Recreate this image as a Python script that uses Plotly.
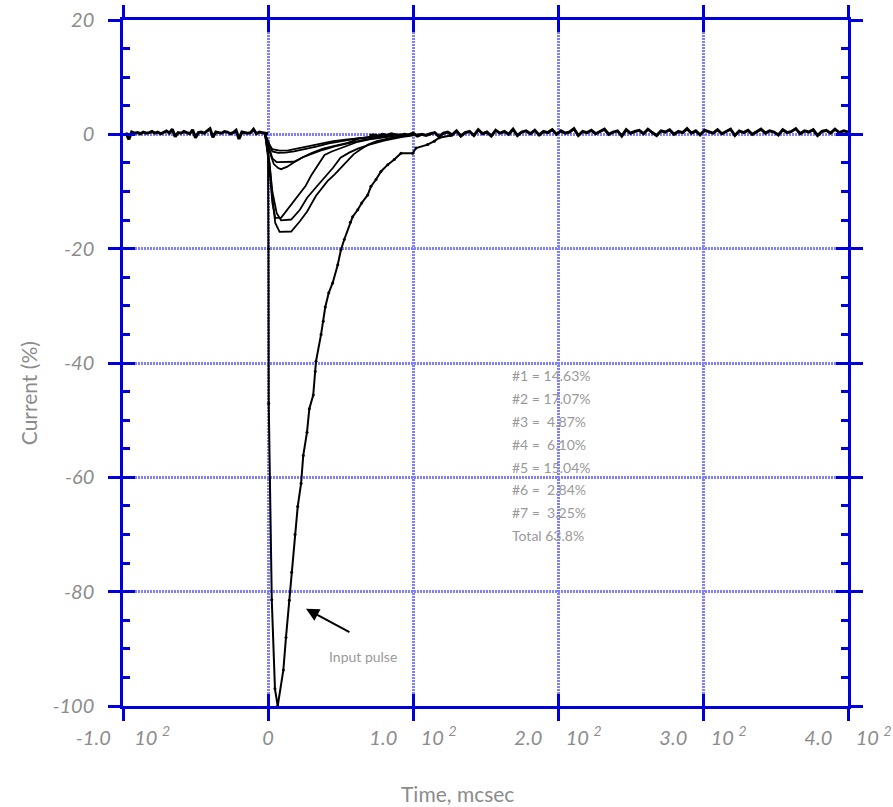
import plotly.graph_objects as go

# ---------------- data ----------------
x_tickvals = [-100, 0, 100, 200, 300, 400]
SP = "\u00a0" * 5
x_ticktext = ["-1.0" + SP + "10 <sup>2</sup>", "0",
              "1.0" + SP + "10 <sup>2</sup>",
              "2.0" + SP + "10 <sup>2</sup>",
              "3.0" + SP + "10 <sup>2</sup>",
              "4.0" + SP + "10 <sup>2</sup>"]
y_tickvals = [20, 0, -20, -40, -60, -80, -100]
y_ticktext = ["20", "0", "-20", "-40", "-60", "-80", "-100"]

# baseline noise before trigger (t = -98 .. 0, step 2 mcsec)
pre_noise = [0.3, -0.9, 0.4, 0.2, 0.3, 0.1, 0.4, 0.2, 0.3, 0.5,
             0.2, 0.4, 0.1, 0.3, 0.6, 0.2, 0.9, -0.4, 0.3, 0.2,
             0.5, 0.3, 0.1, 0.8, -0.6, 0.3, 0.4, 0.2, 0.6, 1.0,
             -0.5, 0.4, 0.3, 0.2, 0.5, 0.4, 0.1, 0.3, 0.7, -0.8,
             0.4, 0.3, 0.2, 0.3, 0.9, 0.1, 0.4, 0.3, 0.2, 0.1]
pre_t = [-98 + 2 * i for i in range(len(pre_noise))]

# baseline noise after recovery (t = 70 .. 400, step 3 mcsec)
post_noise = [-0.2, -0.1, -0.3, 0.0, -0.2, 0.1, -0.1, -0.2, 0.0, -0.1,
              0.2, -0.3, 0.0, -0.2, 0.1, 0.3, -0.4, 0.2, 0.4, -0.1,
              0.6, -0.3, 0.3, 0.5, -0.2, 0.8, 0.1, 0.4, -0.3, 0.7,
              0.2, 0.5, 0.0, 0.9, -0.2, 0.4, 0.6, 0.1, 0.7, -0.1,
              0.5, 0.3, 0.8, 0.0, 0.6, 0.2, 0.4, 1.0, -0.2, 0.5,
              0.3, 0.7, 0.1, 0.5, 0.9, 0.0, 0.4, 0.6, -0.3, 0.8,
              0.2, 0.5, 0.7, 0.1, 0.9, 0.3, -0.2, 0.6, 0.4, 0.8,
              0.0, 0.5, 0.3, 1.0, 0.2, 0.6, -0.1, 0.7, 0.4, 0.2,
              0.8, 0.1, 0.5, 0.9, -0.2, 0.6, 0.3, 0.7, 0.0, 0.5,
              0.9, 0.2, 0.6, 0.4, -0.1, 0.8, 0.3, 0.5, 1.0, 0.1,
              0.6, 0.4, 0.8, -0.2, 0.5, 0.7, 0.2, 0.9, 0.3, 0.6,
              0.4]
post_t = [70 + 3 * i for i in range(len(post_noise))]

# input pulse
pulse_t = [-2, 0, 0.3, 0.5, 2.6, 4.8, 6.7, 10.6, 12.4, 14.7, 16.3, 18.6, 20.5, 22.8,
           24.3, 26.9, 28.5, 31.2, 32.6, 33.1, 36.6, 38.1, 39.5, 41.9, 44.6, 48.1,
           50.3, 52.6, 56.8, 58.4, 61.9, 64.6, 68.8, 71.0, 74.5, 77.9, 82.6, 87.1,
           91.7, 99.8, 102.1, 110.1, 114.7, 118.1, 126]
pulse_y = [0, -2, -20, -47.1, -81.4, -97.0, -100, -93.7, -88.0, -81.5, -76.6, -70.0,
           -65.1, -61.1, -56.2, -52.1, -48.0, -45.6, -41.5, -39.7, -35.0, -32.7, -30.2,
           -27.7, -26.0, -22.8, -20.2, -18.4, -15.4, -14.4, -13.2, -12.0, -10.6, -9.1,
           -7.9, -6.5, -5.3, -4.4, -3.3, -3.3, -2.4, -1.8, -1.2, -0.6, -0.2]

# seven channel responses
c1_t = [-2, 1, 3, 5, 9, 14, 20, 26, 30, 35, 39, 44, 50, 56, 62, 70, 80, 90, 100]
c1_y = [0, -6, -12, -14.6, -14.6, -13.0, -11.1, -9.0, -7.1, -5.2, -3.6, -3.0, -2.4,
        -1.8, -1.3, -0.9, -0.5, -0.2, 0]
c2_t = [-2, 1, 3, 5, 8, 12, 16, 22, 27, 33, 41, 46, 50, 55, 59, 64, 69, 75, 85, 95, 105]
c2_y = [0, -5, -11, -15.5, -17.07, -17.07, -17.0, -15.2, -13.5, -10.8, -8.2, -7.0,
        -5.9, -4.6, -3.5, -2.6, -1.8, -1.2, -0.6, -0.2, 0]
c3_t = [-2, 1, 3, 6, 12, 18, 24, 30, 38, 46, 55, 65, 78, 92]
c3_y = [0, -2.5, -4.2, -4.87, -4.87, -4.8, -4.0, -3.4, -2.7, -2.1, -1.6, -1.0, -0.5, 0]
c4_t = [-2, 1, 4, 7, 9, 13, 18, 24, 30, 38, 46, 55, 62, 72, 85]
c4_y = [0, -3, -5.2, -5.9, -6.1, -5.7, -4.9, -4.0, -3.3, -2.5, -2.0, -1.5, -0.8, -0.4, 0]
c5_t = [-2, 1, 3, 6, 9, 13, 16, 22, 27, 33, 39, 45, 50, 56, 62, 70, 80, 92, 105]
c5_y = [0, -5, -10, -13.8, -15.04, -15.0, -14.9, -13.2, -11.1, -9.3, -7.6, -5.8, -4.1,
        -3.2, -2.5, -1.8, -1.1, -0.5, 0]
c6_t = [-2, 1, 3, 8, 14, 20, 28, 36, 45, 55, 65, 78, 90]
c6_y = [0, -1.8, -2.6, -2.84, -2.8, -2.5, -2.0, -1.6, -1.2, -0.9, -0.6, -0.3, 0]
c7_t = [-2, 1, 3, 7, 12, 18, 26, 34, 42, 52, 62, 75, 88]
c7_y = [0, -2, -3.0, -3.25, -3.2, -3.0, -2.6, -2.1, -1.6, -1.1, -0.7, -0.3, 0]

legend_lines = ["#1 = 14.63%", "#2 = 17.07%", "#3 =\u00a0\u00a04.87%", "#4 =\u00a0\u00a06.10%",
                "#5 = 15.04%", "#6 =\u00a0\u00a02.84%", "#7 =\u00a0\u00a03.25%", "Total 63.8%"]
legend_x = 167
legend_y0 = -42.2
legend_dy = -4.0

# ---------------- figure ----------------
BLUE = "#0000dd"
GRID = "#8080ff"
GRAY = "#8c8c8c"
FONT = "Lato"

fig = go.Figure()

fig.add_trace(go.Scatter(x=pre_t, y=pre_noise, mode="lines",
                         line=dict(color="black", width=3), showlegend=False))
fig.add_trace(go.Scatter(x=post_t, y=post_noise, mode="lines",
                         line=dict(color="black", width=3), showlegend=False))
for t, y in [(c1_t, c1_y), (c2_t, c2_y), (c3_t, c3_y), (c4_t, c4_y),
             (c5_t, c5_y), (c6_t, c6_y), (c7_t, c7_y)]:
    fig.add_trace(go.Scatter(x=t, y=y, mode="lines",
                             line=dict(color="black", width=1.8), showlegend=False))
fig.add_trace(go.Scatter(x=pulse_t, y=pulse_y, mode="lines+markers",
                         line=dict(color="black", width=2),
                         marker=dict(color="black", size=3), showlegend=False))
# helper trace so the overlay axes (inside ticks) are drawn
fig.add_trace(go.Scatter(x=[None], y=[None], xaxis="x2", yaxis="y2",
                         showlegend=False, hoverinfo="skip"))

tickfont = dict(family=FONT, size=20, color=GRAY, style="italic")

fig.update_layout(
    width=893, height=807,
    margin=dict(l=123, r=45, t=20, b=101, autoexpand=False),
    paper_bgcolor="white", plot_bgcolor="white",
    showlegend=False,
    xaxis=dict(range=[-100, 400], tickmode="array", tickvals=x_tickvals,
               ticktext=x_ticktext, ticks="outside", ticklen=12, tickwidth=2.5,
               tickcolor=BLUE, showline=True, linecolor=BLUE, linewidth=2.5,
               mirror="ticks", showgrid=True, gridcolor=GRID, griddash="2px,1px",
               gridwidth=2.5, zeroline=False, tickfont=tickfont, automargin=False),
    xaxis2=dict(range=[-100, 400], overlaying="x", side="bottom", anchor="y2",
                tickmode="array", tickvals=x_tickvals, ticks="inside", ticklen=12,
                tickwidth=2.5, tickcolor=BLUE, mirror="ticks", showline=False,
                showgrid=False, zeroline=False, showticklabels=False, automargin=False),
    yaxis=dict(range=[-100, 20], tickmode="array", tickvals=y_tickvals,
               ticktext=y_ticktext,
               ticks="outside", ticklen=12, tickwidth=2.5, tickcolor=BLUE,
               showline=True, linecolor=BLUE, linewidth=2.5, mirror="ticks",
               showgrid=True, gridcolor=GRID, griddash="2px,1px", gridwidth=2.5,
               zeroline=False, tickfont=tickfont, ticklabelstandoff=10,
               automargin=False),
    yaxis2=dict(range=[-100, 20], overlaying="y", side="left", anchor="x2",
                tickmode="array", tickvals=y_tickvals, ticks="inside", ticklen=12,
                tickwidth=2.5, tickcolor=BLUE, mirror="ticks", showline=False,
                showgrid=False, zeroline=False, showticklabels=False, automargin=False,
                minor=dict(ticks="inside", ticklen=7, tickwidth=2.5, tickcolor=BLUE,
                           dtick=5, tick0=0, showgrid=False)),
)

for i, txt in enumerate(legend_lines):
    fig.add_annotation(x=legend_x, y=legend_y0 + i * legend_dy, xref="x", yref="y",
                       text=txt, showarrow=False, xanchor="left", yanchor="middle",
                       font=dict(family=FONT, size=14, color="#999999"))

fig.add_annotation(x=41, y=-91.4, xref="x", yref="y", text="Input pulse",
                   showarrow=False, xanchor="left", yanchor="middle",
                   font=dict(family=FONT, size=14, color="#999999"))
fig.add_annotation(x=26.2, y=-83.0, ax=57.2, ay=-87.2, xref="x", yref="y",
                   axref="x", ayref="y", text="", showarrow=True, arrowhead=2,
                   arrowsize=1.3, arrowwidth=2, arrowcolor="black")

fig.add_annotation(x=0.4607, y=-0.127, xref="paper", yref="paper",
                   text="Time, mcsec", showarrow=False, xanchor="center",
                   yanchor="middle", font=dict(family=FONT, size=21, color=GRAY))
fig.add_annotation(x=-0.131, y=0.456, xref="paper", yref="paper",
                   text="Current (%)", showarrow=False, textangle=-90,
                   xanchor="center", yanchor="middle",
                   font=dict(family=FONT, size=21, color=GRAY))

fig.write_html("out.html")
